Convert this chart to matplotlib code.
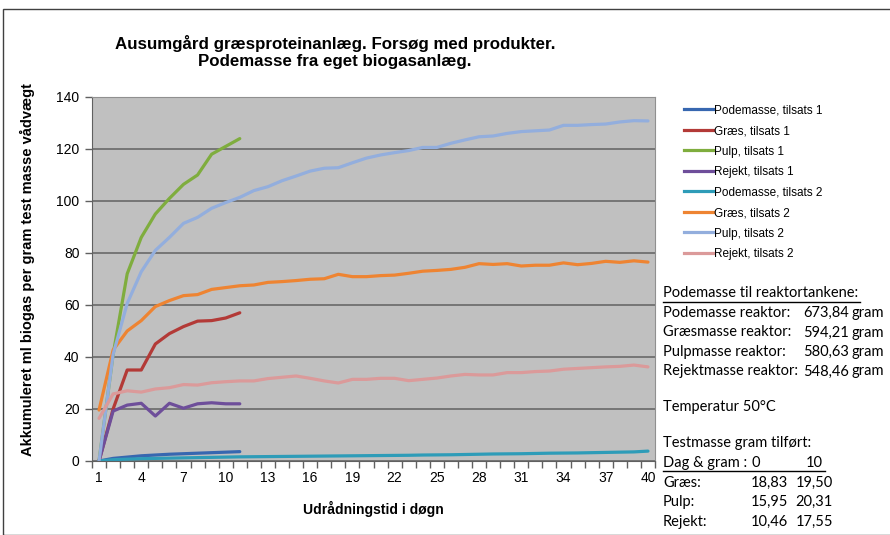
import matplotlib
matplotlib.use("Agg")
import matplotlib.pyplot as plt
from matplotlib.lines import Line2D
from matplotlib.patches import Rectangle

plt.rcParams['font.family'] = ['Liberation Sans', 'DejaVu Sans']

# data
days1 = list(range(1, 12))
days2 = list(range(1, 41))

pode1 = [0, 1.0, 1.5, 2.0, 2.3, 2.6, 2.8, 3.0, 3.2, 3.4, 3.6]
graes1 = [0, 20, 35, 35, 45, 49, 51.7, 53.8, 54, 55, 57]
pulp1 = [0, 41, 72, 86, 95, 101, 106.4, 110, 118, 121, 124]
rejekt1 = [0, 19.2, 21.5, 22.2, 17.3, 22.2, 20.3, 22, 22.4, 22, 22]

pode2 = [0, 0.5, 0.7, 0.9, 1.0, 1.1, 1.2, 1.3, 1.4, 1.5, 1.6, 1.65, 1.7, 1.75,
         1.8, 1.85, 1.9, 1.95, 2.0, 2.05, 2.1, 2.15, 2.2, 2.3, 2.35, 2.4, 2.5,
         2.6, 2.7, 2.75, 2.8, 2.9, 3.0, 3.05, 3.1, 3.2, 3.3, 3.4, 3.5, 3.8]
graes2 = [19.6, 42.7, 50, 54, 59.4, 61.7, 63.6, 64, 66, 66.7, 67.4, 67.7, 68.7,
          69, 69.4, 69.9, 70.1, 71.8, 70.9, 70.9, 71.3, 71.5, 72.2, 73, 73.3,
          73.7, 74.5, 75.9, 75.6, 75.9, 75, 75.3, 75.3, 76.2, 75.5, 76, 76.8,
          76.4, 77, 76.5]
pulp2 = [0, 41, 60.6, 72.8, 81, 86, 91.4, 93.7, 97.2, 99.4, 101.4, 104, 105.5,
         107.8, 109.6, 111.5, 112.6, 112.8, 114.7, 116.5, 117.7, 118.6, 119.4,
         120.6, 120.6, 122.2, 123.5, 124.7, 125, 126, 126.7, 127, 127.3, 129.1,
         129.1, 129.4, 129.6, 130.4, 130.9, 130.8]
rejekt2 = [16.4, 25.8, 27, 26.5, 27.7, 28.2, 29.4, 29.2, 30.1, 30.5, 30.8, 30.8,
           31.7, 32.2, 32.7, 31.8, 30.8, 30, 31.4, 31.4, 31.8, 31.8, 30.9, 31.4,
           31.9, 32.7, 33.3, 33.1, 33.1, 34, 34, 34.4, 34.6, 35.3, 35.6, 35.9,
           36.2, 36.4, 36.9, 36.2]

series = [
    ("Podemasse, tilsats 1", days1, pode1, "#3767B0"),
    ("Græs, tilsats 1", days1, graes1, "#B33A37"),
    ("Pulp, tilsats 1", days1, pulp1, "#7FAD3E"),
    ("Rejekt, tilsats 1", days1, rejekt1, "#6E4E9A"),
    ("Podemasse, tilsats 2", days2, pode2, "#2E9CB8"),
    ("Græs, tilsats 2", days2, graes2, "#EE8432"),
    ("Pulp, tilsats 2", days2, pulp2, "#93AEDD"),
    ("Rejekt, tilsats 2", days2, rejekt2, "#DB9A9A"),
]

W, H = 890, 535
fig = plt.figure(figsize=(8.9, 5.35), dpi=100)
fig.patch.set_facecolor("white")

# outer chart frame
fig.add_artist(Rectangle((3 / W, 0), 2, 1 - 9 / H, transform=fig.transFigure,
                         fill=False, edgecolor="#404040", linewidth=1.0))

ax = fig.add_axes([92 / W, 1 - 461 / H, (655 - 92) / W, (461 - 97) / H])
ax.set_facecolor("#C0C0C0")

for name, x, y, c in series:
    ax.plot(x, y, color=c, linewidth=2.3, label=name, solid_capstyle="round")

ax.set_xlim(0.5, 40.5)
ax.set_ylim(0, 140)
ax.set_yticks(range(0, 141, 20))
ax.set_xticks(range(1, 41, 3))
ax.set_xticks([i + 0.5 for i in range(0, 41)], minor=True)
ax.tick_params(axis="x", which="major", length=0, pad=7, labelsize=10)
ax.tick_params(axis="x", which="minor", length=5, color="#606060", width=1)
ax.tick_params(axis="y", length=5, color="#606060", width=1, labelsize=10, pad=4)
ax.grid(axis="y", color="#707070", linewidth=1.3)
ax.set_axisbelow(True)
for s in ax.spines.values():
    s.set_color("#909090")
ax.spines["left"].set_color("#606060")
ax.spines["bottom"].set_color("#606060")

ax.set_xlabel("Udrådningstid i døgn", fontsize=10, fontweight="bold", labelpad=12)
ax.set_ylabel("Akkumuleret ml biogas per gram test masse vådvægt",
              fontsize=10.5, fontweight="bold")
ax.yaxis.set_label_coords(-57 / (655 - 92), (461 - 270) / (461 - 97))

fig.text(335 / W, 1 - 52 / H,
         "Ausumgård græsproteinanlæg. Forsøg med produkter.\nPodemasse fra eget biogasanlæg.",
         ha="center", va="center", fontsize=12.2, fontweight="bold", linespacing=1.2)

# legend
handles = [Line2D([], [], color=c, linewidth=2.3) for _, _, _, c in series]
labels = [n for n, _, _, _ in series]
fig.legend(handles, labels, loc="upper left", bbox_to_anchor=(673 / W, 1 - 94 / H),
           frameon=False, fontsize=8.5, handlelength=2.45, handletextpad=0.1,
           labelspacing=0.72)

# info text block
tf = dict(fontfamily=["Lato", "DejaVu Sans"], fontsize=10.5, va="center")
def ty(y):
    return 1 - y / H

fig.text(663 / W, ty(293), "Podemasse til reaktortankene:", **tf)
fig.add_artist(Line2D([663 / W, 860 / W], [ty(302), ty(302)], color="black", linewidth=1))
rows = [("Podemasse reaktor:", "673,84"), ("Græsmasse reaktor:", "594,21"),
        ("Pulpmasse reaktor:", "580,63"), ("Rejektmasse reaktor:", "548,46")]
for i, (lab, val) in enumerate(rows):
    y = 313 + i * 19.5
    fig.text(663 / W, ty(y), lab, **tf)
    fig.text(849 / W, ty(y), val, ha="right", **tf)
    fig.text(852 / W, ty(y), "gram", **tf)

fig.text(663 / W, ty(407), "Temperatur 50°C", **tf)
fig.text(663 / W, ty(443), "Testmasse gram tilført:", **tf)
fig.text(663 / W, ty(463), "Dag & gram :", **tf)
fig.text(760 / W, ty(463), "0", ha="right", **tf)
fig.text(823 / W, ty(463), "10", ha="right", **tf)
fig.add_artist(Line2D([663 / W, 825 / W], [ty(471), ty(471)], color="black", linewidth=1))
test = [("Græs:", "18,83", "19,50"), ("Pulp:", "15,95", "20,31"), ("Rejekt:", "10,46", "17,55")]
for i, (lab, a, b) in enumerate(test):
    y = 483 + i * 19.3
    fig.text(663 / W, ty(y), lab, **tf)
    fig.text(788 / W, ty(y), a, ha="right", **tf)
    fig.text(833 / W, ty(y), b, ha="right", **tf)

fig.savefig("out.png", dpi=100)
